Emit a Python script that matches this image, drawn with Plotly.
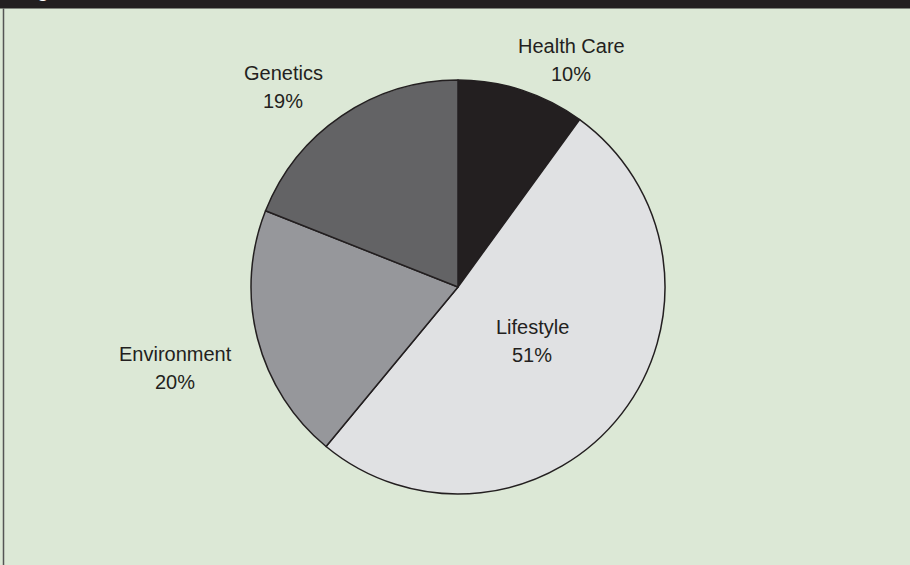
import plotly.graph_objects as go

categories = ["Health Care", "Lifestyle", "Environment", "Genetics"]
shares = [10, 51, 20, 19]
slice_colors = ["#231f20", "#e0e1e3", "#96979b", "#636365"]

W, H = 910, 565
BG = "#dce8d6"
INK = "#231f20"

fig = go.Figure(
    go.Pie(
        labels=categories,
        values=shares,
        sort=False,
        direction="clockwise",
        rotation=0,
        marker=dict(colors=slice_colors, line=dict(color=INK, width=1.5)),
        textinfo="none",
        hoverinfo="label+percent",
        showlegend=False,
        domain=dict(x=[251 / W, 665 / W], y=[(H - 494) / H, (H - 80) / H]),
    )
)

# label anchor positions (pixel centres of the two-line labels)
label_pos = {
    "Health Care": (571, 60),
    "Lifestyle": (532, 341),
    "Environment": (175, 368),
    "Genetics": (283, 87),
}
LINE_GAP = 28.5

annotations = []
font = dict(family="Liberation Sans, Arial, sans-serif", size=20, color=INK)
for cat, val in zip(categories, shares):
    px, py = label_pos[cat]
    for txt, yy in ((cat, py - LINE_GAP / 2), (f"{val}%", py + LINE_GAP / 2)):
        annotations.append(
            dict(
                x=px / W, y=1 - yy / H, xref="paper", yref="paper",
                text=txt, showarrow=False, font=font,
                xanchor="center", yanchor="middle",
            )
        )

# partially visible heading in the black bar
annotations.append(
    dict(
        x=18 / W, y=1 - 3 / H, xref="paper", yref="paper",
        text="<b>Figure</b>", showarrow=False,
        font=dict(family="Liberation Sans, Arial, sans-serif", size=19, color="white"),
        xanchor="left", yanchor="bottom",
    )
)

shapes = [
    dict(type="rect", xref="paper", yref="paper", x0=0, x1=1, y0=1 - 8.5 / H, y1=1,
         fillcolor=INK, line=dict(width=0), layer="below"),
    dict(type="line", xref="paper", yref="paper", x0=3.5 / W, x1=3.5 / W, y0=0, y1=1 - 8.5 / H,
         line=dict(color="#555555", width=1.5)),
]

fig.update_layout(
    width=W, height=H,
    margin=dict(l=0, r=0, t=0, b=0),
    paper_bgcolor=BG,
    plot_bgcolor=BG,
    annotations=annotations,
    shapes=shapes,
)

fig.write_html(
    "out.html",
    config={"displayModeBar": False},
    post_script="document.body.style.margin='0';document.body.style.padding='0';"
                "document.body.style.overflow='hidden';",
)
